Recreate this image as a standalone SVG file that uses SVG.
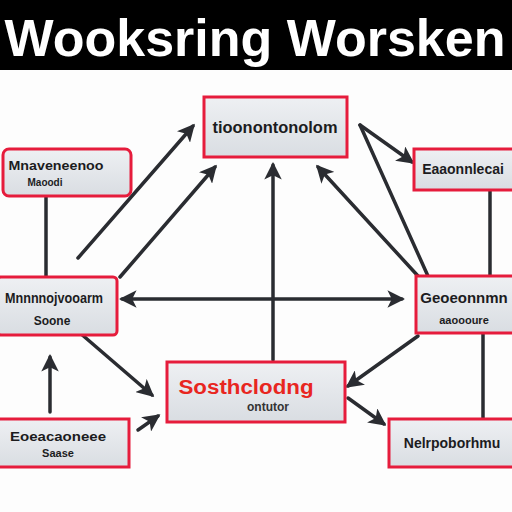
<svg xmlns="http://www.w3.org/2000/svg" width="512" height="512" viewBox="0 0 512 512">
<defs>
<linearGradient id="g" x1="0" y1="0" x2="0" y2="1">
<stop offset="0" stop-color="#eef0f3"/>
<stop offset="1" stop-color="#d9dde2"/>
</linearGradient>
<marker id="ah" viewBox="0 0 12 12" refX="10" refY="6" markerWidth="5" markerHeight="5" orient="auto-start-reverse" markerUnits="strokeWidth">
<path d="M0,0 L12,6 L0,12 L3,6 Z" fill="#2a2c31"/>
</marker>
<style>
.n{fill:url(#g);stroke:#e61c3c;stroke-width:3}
.t{font-family:"Liberation Sans",Arial,sans-serif;font-weight:bold;fill:#1c1c1e;text-anchor:middle}
.c{stroke:#2a2c31;stroke-width:3.5;fill:none;stroke-linecap:round}
</style>
</defs>
<rect width="512" height="512" fill="#fdfdfd"/>
<g id="header">
<rect x="0" y="0" width="512" height="70" fill="#000"/>
<text x="255" y="56" font-family="Liberation Sans,Arial,sans-serif" font-weight="bold" font-size="52" fill="#fff" text-anchor="middle">Wooksring Worsken</text>
</g>
<g id="connectors">
<line class="c" x1="122" y1="299" x2="402" y2="299" marker-start="url(#ah)" marker-end="url(#ah)"/>
<line class="c" x1="273" y1="360" x2="273" y2="165" marker-end="url(#ah)"/>
<line class="c" x1="78" y1="258" x2="193" y2="126" marker-end="url(#ah)"/>
<line class="c" x1="120" y1="277" x2="215" y2="167" marker-end="url(#ah)"/>
<line class="c" x1="418" y1="276" x2="318" y2="167" marker-end="url(#ah)"/>
<line class="c" x1="360" y1="125" x2="412" y2="162" marker-end="url(#ah)"/>
<line class="c" x1="360" y1="125" x2="432" y2="285"/>
<line class="c" x1="46" y1="196" x2="46" y2="276"/>
<line class="c" x1="490" y1="190" x2="490" y2="276"/>
<line class="c" x1="50" y1="412" x2="50" y2="357" marker-end="url(#ah)"/>
<line class="c" x1="483" y1="334" x2="483" y2="418"/>
<line class="c" x1="80" y1="333" x2="152" y2="395" marker-end="url(#ah)"/>
<line class="c" x1="418" y1="336" x2="348" y2="386" marker-end="url(#ah)"/>
<line class="c" x1="138" y1="430" x2="158" y2="416" marker-end="url(#ah)"/>
<line class="c" x1="348" y1="398" x2="384" y2="424" marker-end="url(#ah)"/>
</g>
<g id="n-top">
<rect class="n" x="204" y="97" width="143" height="60"/>
<text class="t" x="275" y="133" font-size="16" textLength="125" lengthAdjust="spacingAndGlyphs">tioonontonolom</text>
</g>
<g id="n-lefttop">
<rect class="n" x="3" y="149" width="128" height="47" rx="6"/>
<text class="t" x="56" y="170" font-size="13" textLength="95" lengthAdjust="spacingAndGlyphs">Mnaveneenoo</text>
<text class="t" x="45" y="186" font-size="10">Maoodi</text>
</g>
<g id="n-righttop">
<rect class="n" x="414" y="149" width="104" height="41"/>
<text class="t" x="463" y="174" font-size="14">Eaaonnlecai</text>
</g>
<g id="n-leftmid">
<rect class="n" x="-3" y="277" width="120" height="58" rx="4"/>
<text class="t" x="54" y="303" font-size="14" textLength="98" lengthAdjust="spacingAndGlyphs">Mnnnnojvooarm</text>
<text class="t" x="52" y="325" font-size="12">Soone</text>
</g>
<g id="n-rightmid">
<rect class="n" x="416" y="276" width="100" height="57"/>
<text class="t" x="464" y="303" font-size="15">Geoeonnmn</text>
<text class="t" x="464" y="324" font-size="11">aaoooure</text>
</g>
<g id="n-center">
<rect class="n" x="167" y="362" width="178" height="60"/>
<text class="t" x="246" y="394" font-size="20" style="fill:#e8261f" textLength="135" lengthAdjust="spacingAndGlyphs">Sosthclodng</text>
<text class="t" x="268" y="411" font-size="12" style="fill:#333">ontutor</text>
</g>
<g id="n-bottomleft">
<rect class="n" x="-3" y="419" width="132" height="48"/>
<text class="t" x="58" y="441" font-size="13" textLength="96" lengthAdjust="spacingAndGlyphs">Eoeacaoneee</text>
<text class="t" x="58" y="457" font-size="11">Saase</text>
</g>
<g id="n-bottomright">
<rect class="n" x="389" y="419" width="126" height="48"/>
<text class="t" x="452" y="448" font-size="14">Nelrpoborhmu</text>
</g>
</svg>
